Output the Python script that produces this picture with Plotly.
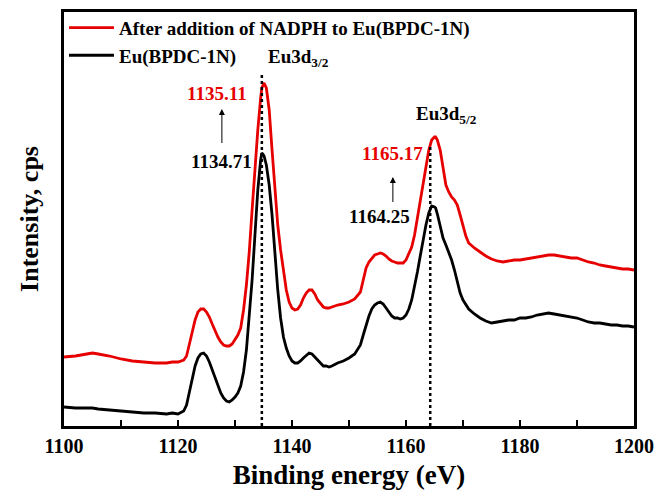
import plotly.graph_objects as go

# Binding energy (eV)
energy = [1100, 1102, 1104, 1105, 1106, 1108, 1110, 1112, 1114, 1116, 1118, 1119, 1120, 1121,
          1121.5, 1122, 1122.5, 1123, 1123.5, 1124, 1124.5, 1125, 1125.5, 1126, 1126.5, 1127,
          1127.5, 1128, 1128.5, 1129, 1129.5, 1130, 1130.5, 1131, 1131.5, 1132, 1132.5, 1133,
          1133.5, 1134, 1134.5, 1134.7, 1135, 1135.1, 1135.5, 1136, 1136.5, 1137, 1137.5, 1138,
          1138.5, 1139, 1139.5, 1140, 1140.5, 1141, 1141.5, 1142, 1142.5, 1143, 1143.5, 1144,
          1144.5, 1145, 1145.5, 1146, 1146.5, 1147, 1148, 1149, 1150, 1151, 1152, 1152.5, 1153,
          1153.5, 1154, 1154.5, 1155, 1155.5, 1156, 1156.5, 1157, 1157.5, 1158, 1158.5, 1159,
          1159.5, 1160, 1160.5, 1161, 1161.5, 1162, 1162.5, 1163, 1163.5, 1164, 1164.5, 1165,
          1165.2, 1165.5, 1166, 1166.5, 1167, 1167.5, 1168, 1168.5, 1169, 1169.5, 1170, 1170.5,
          1171, 1172, 1173, 1174, 1175, 1176, 1177, 1178, 1179, 1180, 1181, 1182, 1183, 1184,
          1185, 1186, 1187, 1188, 1189, 1190, 1191, 1192, 1193, 1194, 1195, 1196, 1197, 1198,
          1199, 1200]

# Eu(BPDC-1N) intensity (arb. units)
eu_bpdc = [19, 18, 18, 18, 17, 16, 15, 14, 13, 13, 12, 13, 12, 15,
           21, 34, 48, 60, 68, 72, 73, 70, 64, 56, 48, 40,
           33, 28, 25, 24, 26, 29, 33, 40, 54, 76, 108, 146,
           191, 236, 266, 273, 271, 270, 261, 241, 211, 171, 136, 108,
           89, 78, 70, 65, 63, 63, 65, 68, 71, 73, 72, 69,
           65, 62, 60, 60, 59, 60, 63, 65, 68, 72, 81, 91, 101,
           110, 117, 121, 123, 124, 122, 118, 113, 110, 108, 108, 107,
           108, 111, 117, 126, 139, 154, 170, 186, 201, 213, 220, 219,
           218, 212, 201, 188, 181, 174, 166, 156, 144, 133, 126, 121,
           117, 112, 108, 105, 103, 104, 105, 106, 106, 108, 108, 109, 111, 112,
           113, 112, 111, 110, 109, 108, 106, 104, 103, 103, 102, 101, 101, 100,
           100, 99]

# After addition of NADPH to Eu(BPDC-1N)
eu_bpdc_nadph = [69, 70, 72, 73, 72, 70, 67, 65, 64, 63, 63, 64, 64, 66,
                 70, 81, 94, 106, 114, 117, 117, 114, 109, 102, 95, 89,
                 84, 81, 80, 80, 82, 86, 91, 98, 116, 141, 174, 216,
                 258, 296, 328, 338, 342, 343, 338, 316, 276, 236, 201, 176,
                 154, 136, 124, 118, 116, 117, 121, 128, 133, 136, 136, 132,
                 126, 122, 119, 118, 118, 119, 121, 122, 124, 127, 134, 146, 158,
                 164, 168, 171, 172, 173, 172, 170, 167, 165, 164, 163, 163,
                 163, 166, 172, 179, 191, 208, 226, 243, 261, 276, 286, 289,
                 289, 286, 276, 258, 241, 234, 229, 226, 221, 211, 201, 190,
                 183, 178, 174, 170, 167, 165, 164, 165, 166, 166, 167, 168, 169, 170,
                 171, 171, 170, 169, 168, 168, 166, 164, 163, 161, 160, 159, 158, 157,
                 157, 156]

series_names = ["After addition of NADPH to Eu(BPDC-1N)", "Eu(BPDC-1N)"]
series_colors = ["rgb(230,0,0)", "black"]

peak_labels = ["1135.11", "1134.71", "1165.17", "1164.25"]
x_ticks = [1100, 1120, 1140, 1160, 1180, 1200]

FONT = "Liberation Serif, Times New Roman, serif"
RED = "rgb(230,0,0)"

fig = go.Figure()
for name, ys, col in zip(series_names, [eu_bpdc_nadph, eu_bpdc], series_colors):
    fig.add_trace(go.Scatter(x=energy, y=ys, mode="lines", name=name,
                             line=dict(color=col, width=2.8)))

# dotted guide lines at peak positions
for xv, ytop in [(1134.71, 353), (1164.25, 280)]:
    fig.add_shape(type="line", xref="x", yref="y", x0=xv, x1=xv, y0=0, y1=ytop,
                  line=dict(color="black", width=2.5, dash="dot"))

def txt(x, y, s, color="black", size=19):
    fig.add_annotation(x=x, y=y, xref="x", yref="y", text=s, showarrow=False,
                       font=dict(family=FONT, size=size, color=color, weight="bold"))

txt(1141.2, 368, "Eu3d<sub>3/2</sub>")
txt(1167.1, 311, "Eu3d<sub>5/2</sub>")
txt(1126.9, 333, peak_labels[0], color=RED)
txt(1155.4, 210, peak_labels[3])

# labels that carry the shift arrows
fig.add_annotation(x=1127.7, y=317, ax=1127.7, ay=265, xref="x", yref="y",
                   axref="x", ayref="y", text=peak_labels[1], showarrow=True,
                   arrowhead=2, arrowsize=1.2, arrowwidth=1, arrowcolor="black",
                   startstandoff=6,
                   font=dict(family=FONT, size=19, color="black", weight="bold"))
fig.add_annotation(x=1157.7, y=224, ax=1157.7, ay=273, xref="x", yref="y",
                   axref="x", ayref="y", text=peak_labels[2], showarrow=True,
                   arrowside="start", arrowhead=2, startarrowhead=2, startarrowsize=1.2,
                   arrowsize=1.2, arrowwidth=1, arrowcolor="black", startstandoff=12,
                   font=dict(family=FONT, size=19, color=RED, weight="bold"))

fig.update_layout(
    width=656, height=492,
    margin=dict(l=64, r=22, t=12, b=66, autoexpand=False),
    paper_bgcolor="white", plot_bgcolor="white",
    font=dict(family=FONT, color="black"),
    showlegend=True,
    legend=dict(x=0.0, y=1.008, xanchor="left", yanchor="top",
                bgcolor="rgba(0,0,0,0)", borderwidth=0,
                font=dict(family=FONT, size=19, color="black", weight="bold"),
                tracegroupgap=0, itemwidth=45),
)
fig.update_xaxes(range=[1100, 1200], tickvals=x_ticks, ticks="inside", ticklen=6, tickwidth=2,
                 tickcolor="black", automargin=False,
                 minor=dict(dtick=10, ticks="inside", ticklen=6, tickwidth=2, tickcolor="black"),
                 showline=True, linecolor="black", linewidth=2.5, mirror=True,
                 showgrid=False, zeroline=False,
                 tickfont=dict(family=FONT, size=20, color="black", weight="bold"),
                 title=dict(text="Binding energy (eV)", standoff=10,
                            font=dict(family=FONT, size=27, color="black", weight="bold")))
fig.update_yaxes(range=[0, 414], showticklabels=False, ticks="", automargin=False,
                 showline=True, linecolor="black", linewidth=2.5, mirror=True,
                 showgrid=False, zeroline=False,
                 title=dict(text="Intensity, cps", standoff=16,
                            font=dict(family=FONT, size=26, color="black", weight="bold")))

fig.write_html("out.html")
